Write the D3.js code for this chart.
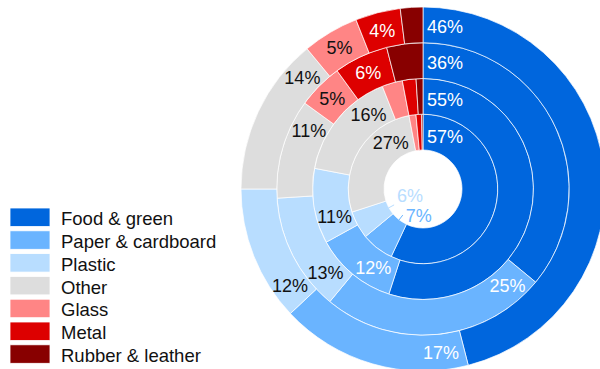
<!DOCTYPE html>
<html>
<head>
<meta charset="utf-8">
<script src="https://cdn.jsdelivr.net/npm/d3@7/dist/d3.min.js"></script>
<style>
  html, body { margin: 0; padding: 0; background: #fff; }
  svg { display: block; font-family: "Liberation Sans", Arial, sans-serif; }
</style>
</head>
<body>
<svg id="chart" width="600" height="369"></svg>
<script>
// Waste composition by category, one array per ring (inner to outer), in %
const categories = ["Food & green", "Paper & cardboard", "Plastic", "Other", "Glass", "Metal", "Rubber & leather"];
const ring1 = [57, 7, 6, 27, 1.5, 1.2, 0.3];
const ring2 = [55, 12, 11, 16, 3, 2, 1];
const ring3 = [36, 25, 13, 11, 5, 6, 4];
const ring4 = [46, 17, 12, 14, 5, 4, 2];
const rings = [ring1, ring2, ring3, ring4];

const colors = ["#0066dd", "#6ab4ff", "#b8ddff", "#dddddd", "#ff8585", "#dd0000", "#880000"];
const textColors = ["#fff", "#fff", "#111", "#111", "#111", "#fff", "#fff"];

const W = 600, H = 369;
const cx = 423, cy = 189;
const holeR = 39, outerR = 182;
const fontSize = 18;
const legendFontSize = 18.5;
const pad = 4;

const svg = d3.select("#chart");
const g = svg.append("g").attr("transform", `translate(${cx},${cy})`);

// ring radii
const rScale = d3.scaleLinear().domain([0, rings.length]).range([holeR, outerR]);
const pie = d3.pie().sort(null).value(d => d);

const segments = [];
rings.forEach((vals, ri) => {
  const r0 = rScale(ri), r1 = rScale(ri + 1);
  const arc = d3.arc().innerRadius(r0).outerRadius(r1);
  pie(vals).forEach((p, ci) => {
    segments.push({ ...p, ring: ri, cat: ci, r0, r1, arc });
  });
});

g.selectAll("path.seg")
  .data(segments)
  .join("path")
  .attr("class", "seg")
  .attr("d", d => d.arc(d))
  .attr("fill", d => colors[d.cat])
  .attr("stroke", "#fff")
  .attr("stroke-width", 0.7);

// text measuring helper
const probe = svg.append("text").attr("font-size", fontSize).attr("visibility", "hidden");
function measure(s) {
  probe.text(s);
  return probe.node().getComputedTextLength();
}

// does a box centred at (x,y) sit inside the annular sector with padding?
function fits(d, x, y, hw, hh) {
  const corners = [[x - hw, y - hh], [x + hw, y - hh], [x - hw, y + hh], [x + hw, y + hh]];
  const a0 = d.startAngle, a1 = d.endAngle;
  return corners.every(([px, py]) => {
    const r = Math.hypot(px, py);
    const ds = px * Math.cos(a0) + py * Math.sin(a0);
    const de = -(px * Math.cos(a1) + py * Math.sin(a1));
    return r >= d.r0 + pad && r <= d.r1 - pad && ds >= pad && de >= pad;
  });
}

const inside = [], callouts = [];
segments.forEach(d => {
  if (d.value < 4) return;
  const label = Math.round(d.value) + "%";
  const w = measure(label);
  const hw = w / 2, hh = fontSize * 0.36;
  const rm = (d.r0 + d.r1) / 2;
  const mid = (d.startAngle + d.endAngle) / 2;
  let ang;
  if (d.value >= 10) {
    // pin the label next to one edge of the segment
    if (mid < 1.5 * Math.PI) {
      const a0 = d.startAngle;
      const off = hw * Math.abs(Math.cos(a0)) + hh * Math.abs(Math.sin(a0)) + pad;
      ang = a0 + Math.asin(off / rm);
    } else {
      const a1 = d.endAngle;
      const off = hw * Math.abs(Math.cos(a1)) + hh * Math.abs(Math.sin(a1)) + pad;
      ang = a1 - Math.asin(off / rm);
    }
    inside.push({ label, x: rm * Math.sin(ang), y: -rm * Math.cos(ang), color: textColors[d.cat] });
    return;
  }
  const x = rm * Math.sin(mid), y = -rm * Math.cos(mid);
  if (fits(d, x, y, hw, hh)) {
    inside.push({ label, x, y, color: textColors[d.cat] });
  } else if (d.ring === 0) {
    // innermost ring: call the value out into the hole
    const ra = d.r0 + 2, rb = d.r0 - 6;
    const x1 = ra * Math.sin(mid), y1 = -ra * Math.cos(mid);
    const x2 = rb * Math.sin(mid), y2 = -rb * Math.cos(mid);
    callouts.push({ label, x1, y1, x2, y2, tx: x2 + 3, ty: y2, w, hh: fontSize * 0.55, color: colors[d.cat] });
  }
});

// keep hole labels from overlapping: lowest first, push others upward
callouts.sort((a, b) => b.ty - a.ty);
const placed = [];
callouts.forEach(c => {
  placed.forEach(p => {
    const overlapX = c.tx < p.tx + p.w && c.tx + c.w > p.tx;
    const overlapY = Math.abs(c.ty - p.ty) < c.hh + p.hh;
    if (overlapX && overlapY) c.ty = p.ty - (c.hh + p.hh);
  });
  placed.push(c);
});
probe.remove();

g.selectAll("text.in")
  .data(inside)
  .join("text")
  .attr("class", "in")
  .attr("x", d => d.x)
  .attr("y", d => d.y)
  .attr("dy", "0.36em")
  .attr("text-anchor", "middle")
  .attr("font-size", fontSize)
  .attr("fill", d => d.color)
  .text(d => d.label);

g.selectAll("line.lead")
  .data(callouts)
  .join("line")
  .attr("class", "lead")
  .attr("x1", d => d.x1).attr("y1", d => d.y1)
  .attr("x2", d => d.x2).attr("y2", d => d.y2)
  .attr("stroke", d => d.color)
  .attr("stroke-width", 1);

g.selectAll("text.out")
  .data(callouts)
  .join("text")
  .attr("class", "out")
  .attr("x", d => d.tx)
  .attr("y", d => d.ty)
  .attr("dy", "0.36em")
  .attr("font-size", fontSize)
  .attr("fill", d => d.color)
  .text(d => d.label);

// legend
const legendY = d3.scaleBand().domain(categories).range([206, 206 + 22.8 * categories.length]);
const legend = svg.append("g");
const items = legend.selectAll("g")
  .data(categories)
  .join("g")
  .attr("transform", d => `translate(10,${legendY(d)})`);
items.append("rect")
  .attr("x", 0).attr("y", 2)
  .attr("width", 40).attr("height", 18.5)
  .attr("fill", (d, i) => colors[i])
  .attr("stroke", "#fff")
  .attr("stroke-width", 0.8);
items.append("text")
  .attr("x", 51)
  .attr("y", 12.5)
  .attr("dy", "0.36em")
  .attr("font-size", legendFontSize)
  .attr("fill", "#111")
  .text(d => d);
</script>
</body>
</html>
